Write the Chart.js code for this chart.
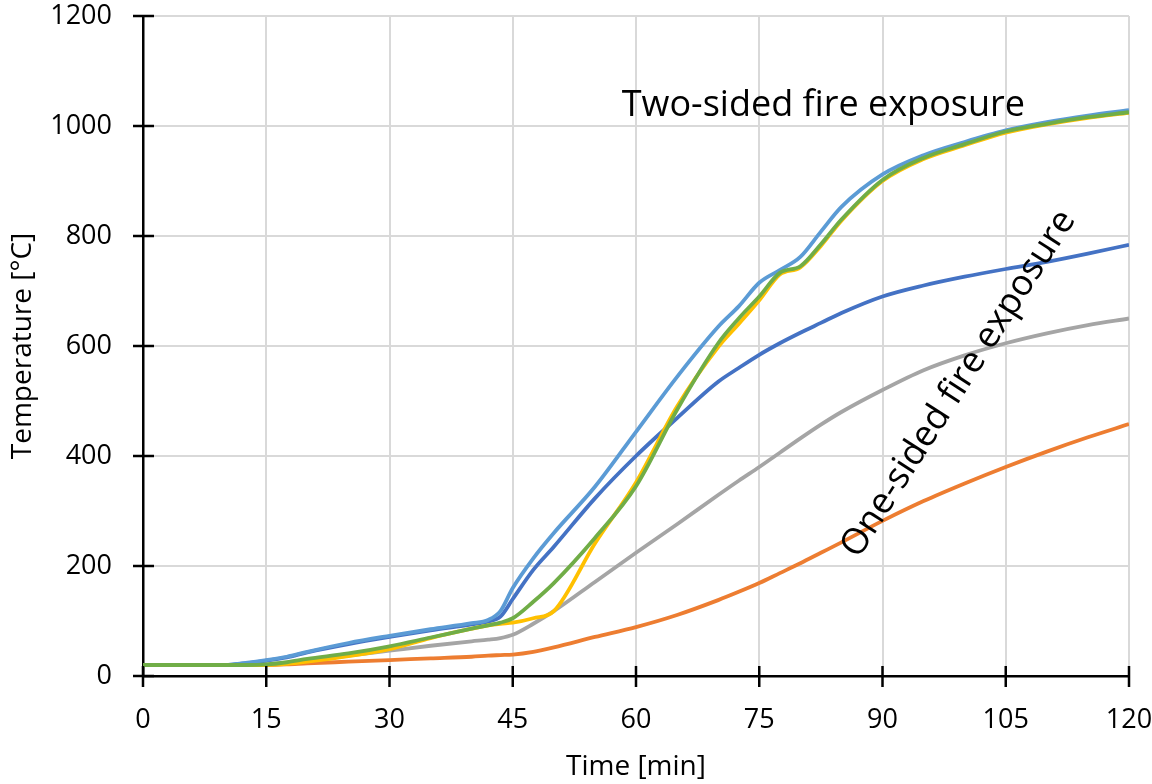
<!DOCTYPE html>
<html>
<head>
<meta charset="utf-8">
<script src="https://cdn.jsdelivr.net/npm/chart.js@4/dist/chart.umd.min.js"></script>
<style>
  html, body { margin: 0; padding: 0; background: #fff; }
  #wrap { width: 1152px; height: 784px; position: relative; }
</style>
</head>
<body>
<div id="wrap"><canvas id="chart"></canvas></div>
<script>
// Time axis (minutes) shared by all curves
const timeMin = [0, 5, 10, 12.5, 15, 17.5, 20, 25, 30, 35, 40, 42, 43.5, 45, 47.5, 50, 55, 60, 65, 70, 72.5, 75, 77.5, 80, 82.5, 85, 90, 95, 100, 105, 110, 115, 120];

// Two-sided fire exposure
const twoSidedA = [20, 20, 20, 24, 29, 35, 44, 60, 73, 85, 96, 102, 118, 160, 214, 260, 344, 444, 544, 635, 672, 715, 738, 762, 808, 853, 912, 947, 971, 992, 1007, 1019, 1029];
const twoSidedB = [20, 20, 20, 20, 20, 22, 26, 36, 49, 69, 86, 92, 95, 97, 105, 118, 241, 352, 490, 598, 640, 683, 730, 743, 782, 828, 900, 940, 965, 988, 1003, 1015, 1024];
const twoSidedC = [20, 20, 20, 20, 21, 25, 31, 41, 54, 70, 86, 92, 97, 105, 135, 169, 251, 345, 484, 605, 650, 690, 733, 745, 785, 830, 902, 942, 967, 990, 1004, 1016, 1025];

// One-sided fire exposure
const oneSidedA = [20, 20, 20, 23, 28, 34, 43, 58, 71, 83, 94, 99, 108, 140, 193, 235, 323, 400, 469, 535, 560, 584, 605, 624, 642, 660, 690, 710, 726, 740, 753, 768, 784];
const oneSidedB = [20, 20, 20, 20, 21, 24, 28, 37, 46, 55, 63, 66, 69, 75, 95, 118, 171, 224, 276, 329, 355, 380, 406, 432, 457, 480, 520, 556, 583, 605, 623, 638, 650];
const oneSidedC = [20, 20, 20, 20, 20, 21, 23, 26, 29, 32, 35, 37, 38, 39, 44, 52, 71, 89, 111, 138, 153, 169, 187, 205, 224, 243, 282, 318, 350, 380, 408, 434, 458];

// Axis ticks
const xTicks = [0, 15, 30, 45, 60, 75, 90, 105, 120];
const yTicks = [0, 200, 400, 600, 800, 1000, 1200];

const FONT = "'Open Sans', 'Noto Sans', sans-serif";

function pts(values) {
  return timeMin.map((t, i) => ({ x: t, y: values[i] }));
}

function series(label, values, color, order) {
  return {
    label, data: pts(values), borderColor: color, backgroundColor: color,
    borderWidth: 3.8, pointRadius: 0, tension: 0.4,
    cubicInterpolationMode: 'monotone', order, fill: false
  };
}

// Keep the plot area fixed: no extra room reserved for edge labels
function fixAxis(size, prop) {
  return s => {
    s[prop] = size;
    s.paddingTop = 0; s.paddingBottom = 0; s.paddingLeft = 0; s.paddingRight = 0;
  };
}

// Short black tick marks crossing both axes
const crossTicks = {
  id: 'crossTicks',
  afterDatasetsDraw(chart) {
    const { ctx, scales: { x, y }, chartArea } = chart;
    ctx.save();
    ctx.strokeStyle = '#000';
    ctx.lineWidth = 2.5;
    ctx.beginPath();
    xTicks.forEach(v => {
      const px = x.getPixelForValue(v);
      ctx.moveTo(px, chartArea.bottom - 10);
      ctx.lineTo(px, chartArea.bottom + 11);
    });
    yTicks.forEach(v => {
      const py = y.getPixelForValue(v);
      ctx.moveTo(chartArea.left - 10, py);
      ctx.lineTo(chartArea.left + 11, py);
    });
    ctx.stroke();
    ctx.restore();
  }
};

// In-plot annotations labelling the two groups of curves
const groupLabels = {
  id: 'groupLabels',
  afterDatasetsDraw(chart) {
    const { ctx, scales: { x, y } } = chart;
    ctx.save();
    ctx.fillStyle = '#000';
    ctx.font = `36px ${FONT}`;
    ctx.textAlign = 'center';
    ctx.textBaseline = 'alphabetic';
    ctx.fillText('Two-sided fire exposure', x.getPixelForValue(82.8), y.getPixelForValue(1019));
    ctx.translate(x.getPixelForValue(99.2), y.getPixelForValue(532));
    ctx.rotate(-57.4 * Math.PI / 180);
    ctx.fillText('One-sided fire exposure', 0, 11);
    ctx.restore();
  }
};

new Chart(document.getElementById('chart'), {
  type: 'line',
  data: {
    datasets: [
      series('Two-sided C', twoSidedC, '#70AD47', 1),
      series('Two-sided A', twoSidedA, '#5B9BD5', 2),
      series('Two-sided B', twoSidedB, '#FFC000', 3),
      series('One-sided A', oneSidedA, '#4472C4', 4),
      series('One-sided B', oneSidedB, '#A5A5A5', 5),
      series('One-sided C', oneSidedC, '#ED7D31', 6)
    ]
  },
  options: {
    responsive: true,
    maintainAspectRatio: false,
    animation: false,
    layout: { padding: { top: 16, right: 23, left: 0, bottom: 0 } },
    plugins: { legend: { display: false }, tooltip: { enabled: false } },
    scales: {
      x: {
        type: 'linear', min: 0, max: 120,
        afterBuildTicks: s => { s.ticks = xTicks.map(v => ({ value: v })); },
        afterFit: fixAxis(108, 'height'),
        grid: { color: '#d9d9d9', lineWidth: 2, drawTicks: false },
        border: { color: '#000', width: 2.5 },
        ticks: { color: '#000', font: { family: FONT, size: 27 }, padding: 28, maxRotation: 0, callback: v => String(v) },
        title: { display: true, text: 'Time [min]', color: '#000', font: { family: FONT, size: 28 }, padding: { top: 0, bottom: 0 } }
      },
      y: {
        min: 0, max: 1200,
        afterBuildTicks: s => { s.ticks = yTicks.map(v => ({ value: v })); },
        afterFit: fixAxis(143, 'width'),
        grid: { color: '#d9d9d9', lineWidth: 2, drawTicks: false },
        border: { color: '#000', width: 2.5 },
        ticks: { color: '#000', font: { family: FONT, size: 27 }, padding: 31, callback: v => String(v) },
        title: { display: true, text: 'Temperature [°C]', color: '#000', font: { family: FONT, size: 28 }, padding: { top: 6, bottom: 0 } }
      }
    }
  },
  plugins: [crossTicks, groupLabels]
});
</script>
</body>
</html>
